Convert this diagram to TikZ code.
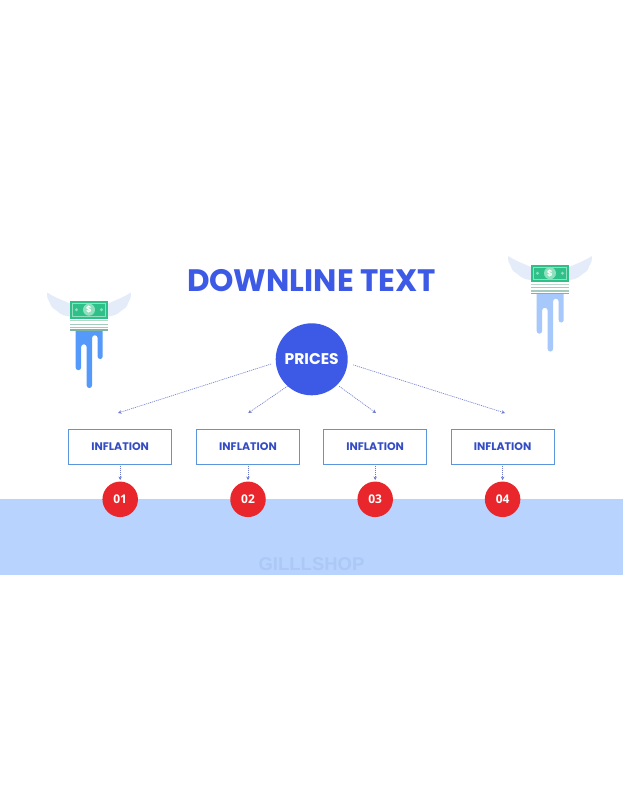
\documentclass[tikz,border=0pt]{standalone}
\usepackage{fontspec}
\setmainfont{Poppins}
\newfontfamily\numfont{Open Sans}
\newfontfamily\wmfont{Liberation Sans}
\usetikzlibrary{arrows.meta}
\definecolor{titleblue}{HTML}{3D5AE6}
\definecolor{linkblue}{HTML}{6A78CE}
\definecolor{boxblue}{HTML}{5B95DC}
\definecolor{bandblue}{HTML}{B8D3FD}
\definecolor{wmblue}{HTML}{ABC8F6}
\definecolor{alarm}{HTML}{E8262B}
\definecolor{wing}{HTML}{E4ECFA}
\definecolor{billgreen}{HTML}{2FC08A}
\definecolor{billlight}{HTML}{8FE0BE}
\definecolor{stripe}{HTML}{7FB59F}
\definecolor{dripstrong}{HTML}{5599FB}
\definecolor{dripsoft}{HTML}{A6C8FB}
\tikzset{
  x=1pt,y=-1pt,
  dotlink/.style={linkblue,line width=0.6pt,dash pattern=on 1.1pt off 0.9pt,
    -{Stealth[length=3.5pt,width=3.5pt]}},
  boxnode/.style={draw=boxblue,line width=0.9pt,fill=white,minimum width=103pt,minimum height=35pt,
    inner sep=0pt,outer sep=0pt,text=titleblue!85!black,font=\fontsize{11}{12}\selectfont\bfseries},
  numnode/.style={circle,fill=alarm,minimum size=35.5pt,inner sep=0pt,outer sep=0pt,text=white,
    font=\numfont\fontsize{12}{15}\selectfont\bfseries},
  pics/money/.style={code={
    \foreach \s in {1,-1}{
      \fill[wing,xscale=\s] (18,3.2) .. controls (26,-1) and (34,-3) .. (41.7,-8.5)
        .. controls (42.5,-4) and (41,-1) .. (39,2)
        .. controls (38.5,6) and (35,8) .. (32,10)
        .. controls (28,14) and (23,15.5) .. (18,15.5) -- cycle;
    }
    \fill[#1] (-13.3,29) -- (13.7,29) -- (13.7,55.5)
      arc[start angle=0,end angle=-180,radius=2.5pt] -- (8.7,37)
      arc[start angle=0,end angle=180,radius=2.85pt] -- (3,84.4)
      arc[start angle=0,end angle=-180,radius=2.65pt] -- (-2.3,46)
      arc[start angle=0,end angle=180,radius=2.8pt] -- (-7.9,66.5)
      arc[start angle=0,end angle=-180,radius=2.7pt] -- cycle;
    \fill[billgreen] (-19,0) rectangle (19,17.5);
    \draw[billlight,line width=0.6pt] (-16.5,2.5) rectangle (16.5,15);
    \fill[billlight] (0,8.7) circle[radius=6pt];
    \fill[billlight] (-12.5,8.7) circle[radius=1.6pt];
    \fill[billlight] (12.5,8.7) circle[radius=1.6pt];
    \node[text=white,font=\fontsize{8.5}{8.5}\selectfont\bfseries,inner sep=0pt] at (0,8.7) {\$};
    \fill[stripe!55] (-19,19) rectangle (19,20.2);
    \fill[stripe!70] (-19,22.5) rectangle (19,23.7);
    \fill[stripe!70] (-19,25.8) rectangle (19,27);
    \fill[stripe] (-19,28) rectangle (19,29.5);
  }},
}
\begin{document}
\begin{tikzpicture}
\useasboundingbox (0,0) rectangle (623,800);
\fill[white] (0,0) rectangle (623,800);
\fill[bandblue] (0,499) rectangle (623,575);
\node[text=wmblue,font=\wmfont\fontsize{18.5}{20}\selectfont\bfseries,inner sep=0pt] (mark) at (311.5,564) {GILLLSHOP};

\pic at (89,301) {money=dripstrong};
\pic at (550,264.5) {money=dripsoft};

\node[text=titleblue,font=\fontsize{31}{34}\selectfont\bfseries,inner sep=0pt] (title) at (311.5,280.5) {DOWNLINE TEXT};
\node[circle,fill=titleblue,minimum size=72pt,inner sep=0pt,outer sep=0pt,text=white,
  font=\fontsize{15.5}{16}\selectfont\bfseries] (prices) at (311.7,359.3) {PRICES};

\foreach \i/\x/\n in {1/120.2/01,2/248/02,3/375.2/03,4/502.6/04}{
  \node[boxnode] (box\i) at (\x,447) {INFLATION};
  \node[numnode] (num\i) at (\x,499.3) {\n};
  \draw[dotlink,shorten <=1pt,shorten >=1.5pt] (box\i) -- (num\i);
}
\coordinate (e1) at (118,413);
\coordinate (e2) at (248.3,413);
\coordinate (e3) at (376,413);
\coordinate (e4) at (505,413);
\draw[dotlink,shorten <=5pt] (prices.185) -- (e1);
\draw[dotlink] (prices.228) -- (e2);
\draw[dotlink,shorten <=2.5pt] (prices.-45) -- (e3);
\draw[dotlink,shorten <=6pt] (prices.-6) -- (e4);
\end{tikzpicture}
\end{document}
